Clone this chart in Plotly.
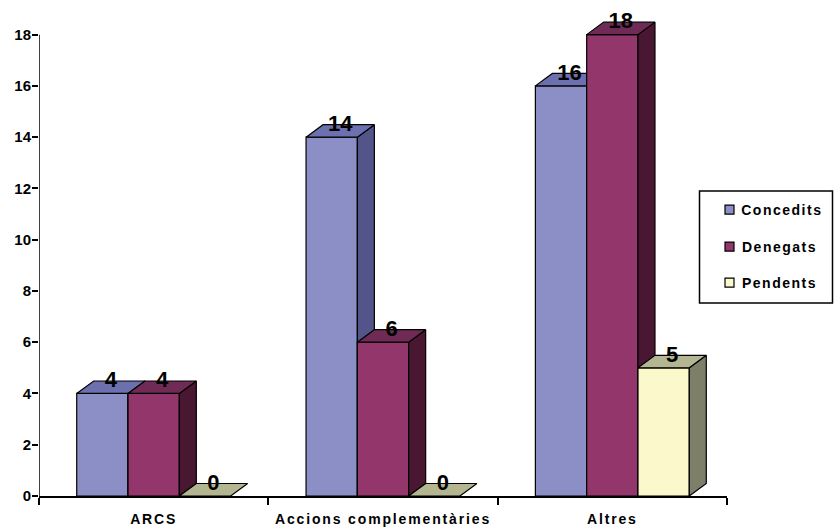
import plotly.graph_objects as go

categories = ["ARCS", "Accions complementàries", "Altres"]
series_names = ["Concedits", "Denegats", "Pendents"]
concedits = [4, 14, 16]
denegats = [4, 6, 18]
pendents = [0, 0, 5]
y_ticks = list(range(0, 19, 2))

series_values = [concedits, denegats, pendents]
front_colors = ["#8C8FC6", "#93366B", "#FBF8CC"]
top_colors = ["#6D70AE", "#6F2A55", "#B4B692"]
side_colors = ["#52548A", "#4A1733", "#7D7F68"]

# pixel geometry of the frame
W, H = 834, 528
X0, X1 = 39.0, 727.0
Y0 = 496.5
PX_PER_UNIT = 25.64
Y_MAX = 19
Y_TOP = Y0 - Y_MAX * PX_PER_UNIT
PX_PER_CAT = (X1 - X0) / 3
BAR_W = 51.3 / PX_PER_CAT
DX = 17 / PX_PER_CAT          # oblique depth, in axis units
DY = 12.5 / PX_PER_UNIT
LEGEND_SPACING = 1.5


def px(x):
    return (x - X0) / (X1 - X0)


def py(y):
    return 1 - (y - Y_TOP) / (Y0 - Y_TOP)


OUTLINE = dict(color="#000000", width=1.2)
fig = go.Figure()

for i, (name, values) in enumerate(zip(series_names, series_values)):
    axis_x = "x" if i == 0 else f"x{i + 1}"
    axis_y = "y" if i == 0 else f"y{i + 1}"
    centers = [c + 0.5 + (i - 1) * BAR_W for c in range(len(categories))]
    fig.add_trace(go.Bar(
        x=centers, y=values, width=BAR_W, name=name, xaxis=axis_x, yaxis=axis_y,
        marker=dict(color=front_colors[i], line=OUTLINE), showlegend=False,
        hoverinfo="skip",
    ))
    for cx, v in zip(centers, values):
        left, right = cx - BAR_W / 2, cx + BAR_W / 2
        if v > 0:
            fig.add_trace(go.Scatter(
                x=[right, right + DX, right + DX, right, right],
                y=[0, DY, v + DY, v, 0],
                mode="lines", fill="toself", fillcolor=side_colors[i], line=OUTLINE,
                xaxis=axis_x, yaxis=axis_y, showlegend=False, hoverinfo="skip",
            ))
        fig.add_trace(go.Scatter(
            x=[left, left + DX, right + DX, right, left],
            y=[v, v + DY, v + DY, v, v],
            mode="lines", fill="toself", fillcolor=top_colors[i], line=OUTLINE,
            xaxis=axis_x, yaxis=axis_y, showlegend=False, hoverinfo="skip",
        ))

# value labels on the topmost overlay
for i, values in enumerate(series_values):
    fig.add_trace(go.Scatter(
        x=[c + 0.5 + (i - 1) * BAR_W + DX / 2 for c in range(len(categories))],
        y=[v + 0.46 for v in values],
        text=[str(v) for v in values], mode="text", textposition="middle center",
        textfont=dict(family="Liberation Sans", size=22, color="#000000", weight=700),
        xaxis="x3", yaxis="y3", showlegend=False, hoverinfo="skip",
    ))

overlay_x = dict(range=[0, 3], visible=False, overlaying="x", fixedrange=True)
overlay_y = dict(range=[0, Y_MAX], visible=False, overlaying="y", fixedrange=True)

shapes = [
    dict(type="line", xref="x", yref="y", x0=0, x1=0, y0=0, y1=18,
         line=dict(color="#000000", width=1.5), layer="above"),
    dict(type="rect", xref="paper", yref="paper", x0=px(699.5), x1=px(832.5),
         y0=py(303.5), y1=py(191.5), line=dict(color="#000000", width=1.5),
         fillcolor="#FFFFFF", layer="above"),
]
annotations = []
legend_rows = [210, 247, 283]
for name, color, row in zip(series_names, front_colors, legend_rows):
    shapes.append(dict(type="rect", xref="paper", yref="paper",
                       x0=px(725), x1=px(734), y0=py(row + 4.5), y1=py(row - 4.5),
                       fillcolor=color, line=dict(color="#000000", width=1.2), layer="above"))
    annotations.append(dict(text=name, xref="paper", yref="paper",
                            x=px(739.5 + len(name) * LEGEND_SPACING / 2), y=py(row),
                            xanchor="left", yanchor="middle", showarrow=False,
                            font=dict(family="Liberation Sans", size=14, color="#000000", weight=700)))

fig.update_layout(
    width=W, height=H, autosize=False,
    margin=dict(l=X0, r=W - X1, t=Y_TOP, b=H - Y0, pad=0, autoexpand=False),
    paper_bgcolor="#FFFFFF", plot_bgcolor="#FFFFFF",
    barmode="overlay", showlegend=False,
    shapes=shapes, annotations=annotations,
    font=dict(family="Liberation Sans", color="#000000"),
    xaxis=dict(
        range=[0, 3], tickmode="array", tickvals=[c + 0.5 for c in range(3)], ticktext=categories,
        ticks="", showgrid=False, zeroline=False, showline=True, linecolor="#000000", linewidth=1.5,
        tickfont=dict(family="Liberation Sans", size=14, color="#000000", weight=700),
        ticklabelstandoff=9, fixedrange=True,
        minor=dict(tickmode="array", tickvals=[0, 1, 2, 3], ticks="outside", ticklen=7,
                   tickwidth=1.5, tickcolor="#000000", showgrid=False),
    ),
    yaxis=dict(
        range=[0, Y_MAX], tickmode="array", tickvals=y_ticks, ticks="outside", ticklen=6,
        tickwidth=1.5, tickcolor="#000000", showgrid=False, zeroline=False, showline=False,
        tickfont=dict(family="Liberation Sans", size=15, color="#000000", weight=700),
        ticklabelstandoff=-2, fixedrange=True,
    ),
    xaxis2=overlay_x, yaxis2=overlay_y, xaxis3=overlay_x, yaxis3=overlay_y,
)

post = """
document.body.style.margin='0';
var s=document.createElement('style');
s.textContent='.annotation-text{letter-spacing:%spx}.xtick text{letter-spacing:1.85px}';
document.head.appendChild(s);
""" % LEGEND_SPACING
fig.write_html("out.html", post_script=post, config={"displayModeBar": False})
